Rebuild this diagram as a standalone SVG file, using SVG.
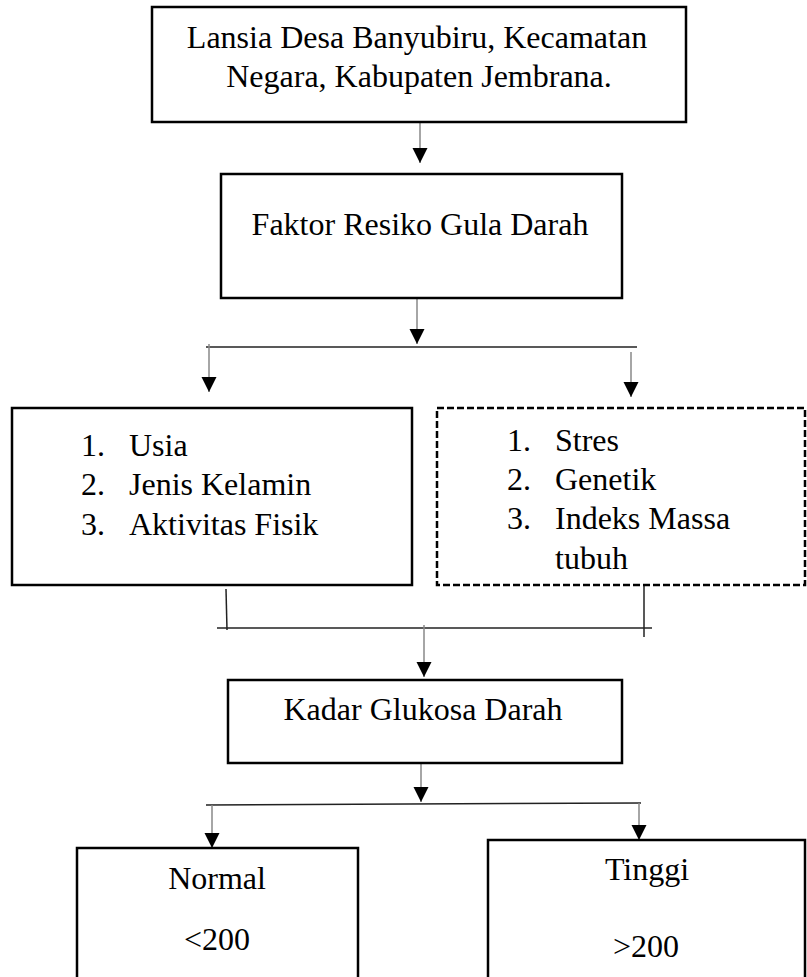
<svg xmlns="http://www.w3.org/2000/svg" width="807" height="977" viewBox="0 0 807 977">
<style>
.box{fill:#fff;stroke:#000;stroke-width:2.5}
.dash{fill:#fff;stroke:#000;stroke-width:2.5;stroke-dasharray:7 3}
.t{font-family:"Liberation Serif","Times New Roman",serif;font-size:32px;fill:#000}
.m{text-anchor:middle}
.arr{stroke:#888;stroke-width:1.5;fill:none;marker-end:url(#ah)}
.ln{stroke:#222;stroke-width:1.5;fill:none}
</style>
<defs>
<marker id="ah" markerUnits="userSpaceOnUse" markerWidth="16" markerHeight="16" refX="15" refY="7.5" orient="auto">
<path d="M0,0 L15,7.5 L0,15 z" fill="#000"/>
</marker>
</defs>
<rect width="807" height="977" fill="#fff"/>
<g id="connectors">
<line class="arr" x1="420" y1="122" x2="420" y2="163"/>
<line class="arr" x1="417" y1="298" x2="417" y2="344"/>
<line class="ln" x1="206" y1="347" x2="637" y2="347"/>
<line class="arr" x1="209" y1="344" x2="209" y2="392"/>
<line class="arr" x1="631" y1="352" x2="631" y2="397"/>
<line class="ln" x1="226" y1="589" x2="227" y2="630"/>
<line class="ln" x1="644" y1="585" x2="644" y2="637"/>
<line class="ln" x1="217" y1="628" x2="652" y2="628"/>
<line class="arr" x1="424" y1="625" x2="424" y2="677"/>
<line class="arr" x1="421" y1="763" x2="421" y2="802"/>
<line class="ln" x1="206" y1="805" x2="641" y2="803"/>
<line class="arr" x1="212" y1="805" x2="212" y2="848"/>
<line class="arr" x1="639" y1="803" x2="639" y2="840"/>
</g>
<g id="lansia">
<rect class="box" x="152" y="7" width="534" height="115"/>
<text class="t m" x="417" y="48">Lansia Desa Banyubiru, Kecamatan</text>
<text class="t m" x="419" y="87">Negara, Kabupaten Jembrana.</text>
</g>
<g id="faktor">
<rect class="box" x="221" y="174" width="401" height="124"/>
<text class="t m" x="420" y="235">Faktor Resiko Gula Darah</text>
</g>
<g id="faktor-kiri">
<rect class="box" x="12" y="408" width="400" height="177"/>
<text class="t" x="81" y="456">1.</text><text class="t" x="129" y="456">Usia</text>
<text class="t" x="81" y="495">2.</text><text class="t" x="129" y="495">Jenis Kelamin</text>
<text class="t" x="81" y="535">3.</text><text class="t" x="129" y="535">Aktivitas Fisik</text>
</g>
<g id="faktor-kanan">
<rect class="dash" x="437" y="408" width="368" height="177"/>
<text class="t" x="507" y="451">1.</text><text class="t" x="555" y="451">Stres</text>
<text class="t" x="507" y="490">2.</text><text class="t" x="555" y="490">Genetik</text>
<text class="t" x="507" y="529">3.</text><text class="t" x="555" y="529">Indeks Massa</text>
<text class="t" x="555" y="569">tubuh</text>
</g>
<g id="kadar">
<rect class="box" x="228" y="680" width="394" height="83"/>
<text class="t m" x="423" y="720">Kadar Glukosa Darah</text>
</g>
<g id="normal">
<rect class="box" x="77" y="848" width="281" height="150"/>
<text class="t m" x="217" y="889">Normal</text>
<text class="t m" x="217" y="950">&lt;200</text>
</g>
<g id="tinggi">
<rect class="box" x="488" y="840" width="317" height="160"/>
<text class="t m" x="647" y="880">Tinggi</text>
<text class="t m" x="646" y="957">&gt;200</text>
</g>
</svg>
